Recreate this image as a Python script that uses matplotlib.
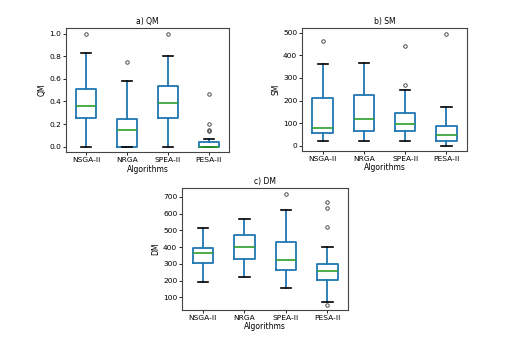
import matplotlib
matplotlib.use("Agg")
import matplotlib.pyplot as plt

algorithms = ["NSGA-II", "NRGA", "SPEA-II", "PESA-II"]

# (whislo, q1, med, q3, whishi, fliers)
qm = [(0.0, 0.25, 0.36, 0.51, 0.83, [1.0]),
      (0.0, 0.0, 0.15, 0.24, 0.58, [0.75]),
      (0.0, 0.255, 0.39, 0.54, 0.80, [1.0]),
      (0.0, 0.0, 0.0, 0.04, 0.07, [0.14, 0.15, 0.20, 0.47])]
sm = [(20, 55, 78, 212, 362, [463]),
      (20, 67, 117, 223, 368, []),
      (22, 67, 97, 145, 248, [268, 442]),
      (0, 20, 47, 88, 173, [497])]
dm = [(193, 303, 365, 395, 513, []),
      (223, 330, 403, 475, 565, []),
      (157, 262, 325, 430, 622, [720]),
      (75, 205, 257, 298, 400, [57, 518, 635, 672])]

qm_ticks = [0.0, 0.2, 0.4, 0.6, 0.8, 1.0]
sm_ticks = [0, 100, 200, 300, 400, 500]
dm_ticks = [100, 200, 300, 400, 500, 600, 700]

panels = [("a) QM", "QM", qm, qm_ticks, [0.130, 0.565, 0.323, 0.355]),
          ("b) SM", "SM", sm, sm_ticks, [0.597, 0.568, 0.326, 0.352]),
          ("c) DM", "DM", dm, dm_ticks, [0.360, 0.114, 0.328, 0.349])]

fig = plt.figure(figsize=(5.06, 3.5), dpi=100)

for title, ylabel, data, ticks, rect in panels:
    ax = fig.add_axes(rect)
    stats = []
    for name, (lo, q1, med, q3, hi, fl) in zip(algorithms, data):
        stats.append(dict(label=name, whislo=lo, q1=q1, med=med, q3=q3,
                          whishi=hi, fliers=fl))
    ax.bxp(stats, widths=0.5,
           boxprops=dict(color="#1f77b4", linewidth=1.3),
           whiskerprops=dict(color="#1f77b4", linewidth=1.3),
           capprops=dict(color="black", linewidth=1.2),
           medianprops=dict(color="#2ca02c", linewidth=1.2),
           flierprops=dict(marker="o", markersize=2.5, markerfacecolor="none",
                           markeredgecolor="#333333", markeredgewidth=0.6))
    ax.set_yticks(ticks)
    ax.set_title(title, fontsize=5.5, pad=3)
    ax.set_ylabel(ylabel, fontsize=5.5, labelpad=2)
    ax.set_xlabel("Algorithms", fontsize=5.5, labelpad=1)
    ax.tick_params(labelsize=5.4, length=2, width=0.6, pad=1.5)
    for s in ax.spines.values():
        s.set_linewidth(0.8)
        s.set_color("#444444")

fig.savefig("out.png", dpi=100)
